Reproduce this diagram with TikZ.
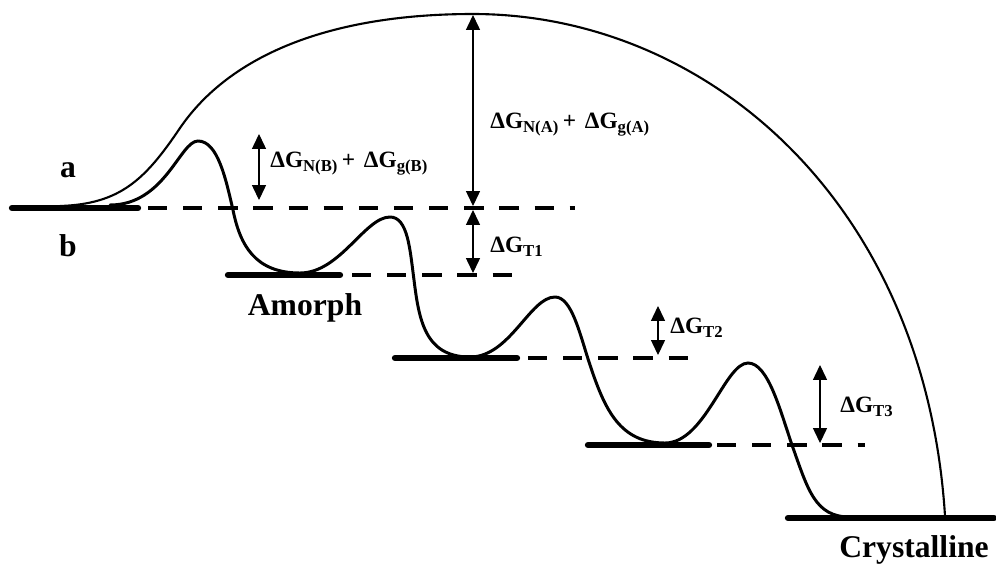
\documentclass[tikz,border=0pt]{standalone}
\usepackage{fontspec}
\setmainfont{Liberation Serif}
\usetikzlibrary{arrows.meta, positioning}
\newcommand{\dG}[1]{{\fontsize{13.3}{15}\selectfont\bfseries ΔG}\raisebox{-2.2pt}{\fontsize{9.5}{11}\selectfont\bfseries #1}}

\begin{document}
\begin{tikzpicture}[
  x=0.02cm, y=-0.02cm,
  level/.style={line width=3.6pt, line cap=round},
  guide/.style={line width=2.4pt, dash pattern=on 11pt off 9pt},
  curve/.style={line width=1.7pt, line cap=round},
  hull/.style={line width=1.2pt},
  gap/.style={{Triangle[length=8.5pt,width=8pt]}-{Triangle[length=8.5pt,width=8pt]}, line width=0.6pt},
  lbl/.style={font=\fontsize{18}{20}\selectfont\bfseries, inner sep=0pt},
  val/.style={anchor=west, inner sep=0pt}
]
  \useasboundingbox (0,0) rectangle (996,572);

  % energy levels
  \coordinate (l0a) at (12,208);  \coordinate (l0b) at (138,208);
  \coordinate (l1a) at (228,275); \coordinate (l1b) at (340,275);
  \coordinate (l2a) at (395,358); \coordinate (l2b) at (517,358);
  \coordinate (l3a) at (588,445); \coordinate (l3b) at (709,445);
  \coordinate (l4a) at (788,518); \coordinate (l4b) at (994,518);
  \draw[level] (l0a) -- (l0b);
  \draw[level] (l1a) -- (l1b);
  \draw[level] (l2a) -- (l2b);
  \draw[level] (l3a) -- (l3b);
  \draw[level] (l4a) -- (l4b);

  % dashed references
  \coordinate (g0a) at (148,208); \coordinate (g0b) at (575,208);
  \coordinate (g1a) at (352,275); \coordinate (g1b) at (517,275);
  \coordinate (g2a) at (528,358); \coordinate (g2b) at (693,358);
  \coordinate (g3a) at (717,445); \coordinate (g3b) at (865,445);
  \draw[guide] (g0a) -- (g0b);
  \draw[guide] (g1a) -- (g1b);
  \draw[guide] (g2a) -- (g2b);
  \draw[guide] (g3a) -- (g3b);

  % path a
  \draw[hull] (60,206) .. controls (120,204) and (145,180) .. (180,128)
    .. controls (230,55) and (330,14) .. (473,14)
    .. controls (705,14) and (925,200) .. (945,516);

  % path b
  \draw[curve] (110,205) .. controls (165,205) and (180,141) .. (198,141)
    .. controls (218,141) and (226,180) .. (233,210)
    .. controls (240,245) and (255,273) .. (300,273)
    .. controls (340,273) and (365,217) .. (390,217)
    .. controls (408,217) and (410,250) .. (414,280)
    .. controls (419,320) and (425,357) .. (470,357)
    .. controls (510,357) and (530,297) .. (555,297)
    .. controls (572,297) and (580,335) .. (590,365)
    .. controls (605,410) and (620,443) .. (665,443)
    .. controls (705,443) and (725,363) .. (748,363)
    .. controls (768,363) and (780,410) .. (792,445)
    .. controls (808,490) and (815,517) .. (850,517);

  % energy gaps
  \coordinate (topA) at (473,15);  \coordinate (baseA) at (473,206);
  \coordinate (topT1) at (473,210); \coordinate (baseT1) at (473,273);
  \coordinate (topB) at (259,134); \coordinate (baseB) at (259,200);
  \coordinate (topT2) at (658,306); \coordinate (baseT2) at (658,355);
  \coordinate (topT3) at (820,365); \coordinate (baseT3) at (820,443);
  \draw[gap] (topA) -- (baseA);
  \draw[gap] (topT1) -- (baseT1);
  \draw[gap] (topB) -- (baseB);
  \draw[gap] (topT2) -- (baseT2);
  \draw[gap] (topT3) -- (baseT3);

  \node[val] (nA) at (490,125) {\dG{N(A)} {\fontsize{13.3}{15}\selectfont\bfseries +}\ \ \dG{g(A)}};
  \node[val] (nB) at (270,164) {\dG{N(B)} {\fontsize{13.3}{15}\selectfont\bfseries +}\ \ \dG{g(B)}};
  \node[val] (nT1) at (490,247) {\dG{T1}};
  \node[val] (nT2) at (670,328) {\dG{T2}};
  \node[val] (nT3) at (840,407) {\dG{T3}};

  \node[lbl] (la) at (68,170) {a};
  \node[lbl] (lb) at (68,246) {b};
  \node[lbl] (amorph) at (305,308) {Amorph};
  \node[lbl] (cryst) at (914,550) {Crystalline};
\end{tikzpicture}
\end{document}
